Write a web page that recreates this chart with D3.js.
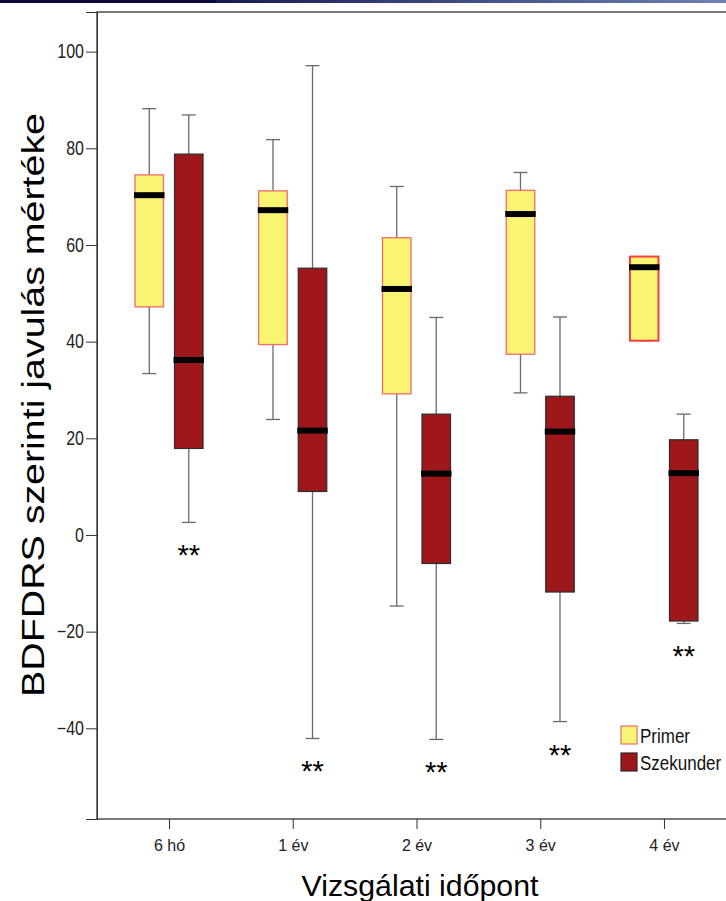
<!DOCTYPE html>
<html><head><meta charset="utf-8">
<script src="https://cdn.jsdelivr.net/npm/d3@7"></script>
<style>
html,body{margin:0;padding:0;background:#fff;}
svg{display:block;font-family:"Liberation Sans",Arial,sans-serif;}
</style></head>
<body>
<svg id="chart" width="726" height="901"></svg>
<script>
// ---- data ----
const categories = ["6 hó", "1 év", "2 év", "3 év", "4 év"];
const groups = ["Primer", "Szekunder"];
const primerMin    = [33.4, 23.9, -14.7, 29.4, 40.2];
const primerQ1     = [47.2, 39.4, 29.2, 37.4, 40.2];
const primerMedian = [70.3, 67.2, 50.9, 66.4, 55.4];
const primerQ3     = [74.5, 71.2, 61.5, 71.3, 57.6];
const primerMax    = [88.2, 81.8, 72.1, 75.0, 57.6];
const szekMin    = [2.6, -42.1, -42.3, -38.6, -18.3];
const szekQ1     = [17.9, 9.0, -5.9, -11.8, -17.8];
const szekMedian = [36.2, 21.6, 12.7, 21.4, 12.8];
const szekQ3     = [78.8, 55.2, 25.0, 28.7, 19.7];
const szekMax    = [86.9, 97.1, 45.0, 45.1, 25.0];
const significance = ["**", "**", "**", "**", "**"];
const yTicks = [-40, -20, 0, 20, 40, 60, 80, 100];
const yTitle = "BDFDRS szerinti javulás mértéke";
const xTitle = "Vizsgálati időpont";

const rows = [];
categories.forEach((c, i) => {
  rows.push({cat: c, grp: "Primer", min: primerMin[i], q1: primerQ1[i], med: primerMedian[i], q3: primerQ3[i], max: primerMax[i]});
  rows.push({cat: c, grp: "Szekunder", min: szekMin[i], q1: szekQ1[i], med: szekMedian[i], q3: szekQ3[i], max: szekMax[i], sig: significance[i]});
});

const svg = d3.select("#chart");
const fill = {Primer: "#f9f472", Szekunder: "#9e171a"};
const stroke = {Primer: "#f26a6a", Szekunder: "#2b2b2b"};

// top slide decoration
const defs = svg.append("defs");
const lg = defs.append("linearGradient").attr("id", "topbar");
lg.append("stop").attr("offset", "0%").attr("stop-color", "#141a55");
lg.append("stop").attr("offset", "100%").attr("stop-color", "#6f80b8");
svg.append("rect").attr("x", 0).attr("y", 0).attr("width", 216).attr("height", 3).attr("fill", "#0b0b3a");
svg.append("rect").attr("x", 216).attr("y", 0).attr("width", 510).attr("height", 3).attr("fill", "url(#topbar)");

const mLeft = 97, mTop = 12, mRight = 736, mBottom = 819;
const y = d3.scaleLinear().domain([-58.76, 108.2]).range([mBottom, mTop]);
const x = d3.scalePoint().domain(categories).range([mLeft, mRight]).padding(0.582);
const xs = d3.scaleBand().domain(groups).range([-34, 34]).paddingInner(0.2785);
const bw = xs.bandwidth();

// frame
svg.append("rect").attr("x", mLeft).attr("y", mTop).attr("width", mRight - mLeft).attr("height", mBottom - mTop)
  .attr("fill", "none").attr("stroke", "#333").attr("stroke-width", 1.3);

// y axis
const ya = svg.append("g").attr("transform", `translate(${mLeft},0)`)
  .call(d3.axisLeft(y).tickValues(yTicks).tickSize(11).tickPadding(2).tickFormat(d3.format("d")));
ya.select(".domain").attr("stroke", "#333");
ya.selectAll(".tick line").attr("stroke", "#333");
ya.selectAll(".tick text").attr("font-size", 16).attr("fill", "#222")
  .attr("font-family", "Liberation Sans, Arial, sans-serif")
  .attr("transform", "scale(1,1.22)");

// x axis
const xa = svg.append("g").attr("transform", `translate(0,${mBottom})`)
  .call(d3.axisBottom(x).tickSize(10).tickPadding(11));
xa.select(".domain").remove();
xa.selectAll(".tick line").attr("stroke", "#333");
xa.selectAll(".tick text").attr("font-size", 16).attr("fill", "#222").attr("font-family", "Liberation Sans, Arial, sans-serif");

// boxes
const g = svg.append("g");
const box = g.selectAll("g.box").data(rows).join("g").attr("class", "box")
  .attr("transform", d => `translate(${x(d.cat) + xs(d.grp)},0)`);
const cap = 14;
box.filter(d => d.max > d.q3).append("line")
  .attr("x1", bw / 2).attr("x2", bw / 2).attr("y1", d => y(d.max)).attr("y2", d => y(d.q3))
  .attr("stroke", "#6a6a6a").attr("stroke-width", 1.3);
box.filter(d => d.min < d.q1).append("line")
  .attr("x1", bw / 2).attr("x2", bw / 2).attr("y1", d => y(d.min)).attr("y2", d => y(d.q1))
  .attr("stroke", "#6a6a6a").attr("stroke-width", 1.3);
box.append("line").attr("x1", bw / 2 - cap / 2).attr("x2", bw / 2 + cap / 2)
  .attr("y1", d => y(d.max)).attr("y2", d => y(d.max)).attr("stroke", "#6a6a6a").attr("stroke-width", 1.3);
box.append("line").attr("x1", bw / 2 - cap / 2).attr("x2", bw / 2 + cap / 2)
  .attr("y1", d => y(d.min)).attr("y2", d => y(d.min)).attr("stroke", "#6a6a6a").attr("stroke-width", 1.3);
box.append("rect").attr("x", 0).attr("width", bw)
  .attr("y", d => y(d.q3)).attr("height", d => y(d.q1) - y(d.q3))
  .attr("fill", d => fill[d.grp])
  .attr("stroke", d => d.grp === "Primer" && d.cat === "4 év" ? "#f04040" : stroke[d.grp])
  .attr("stroke-width", d => d.grp === "Primer" ? (d.cat === "4 év" ? 2 : 1.3) : 1.2);
box.append("line").attr("x1", -1).attr("x2", bw + 1)
  .attr("y1", d => y(d.med)).attr("y2", d => y(d.med))
  .attr("stroke", "#000").attr("stroke-width", 6);
box.filter(d => d.sig).append("text")
  .attr("x", bw / 2).attr("y", d => y(d.min) + 43)
  .attr("text-anchor", "middle").attr("font-size", 29).attr("fill", "#000")
  .text(d => d.sig);

// legend
const leg = svg.append("g").attr("transform", "translate(621,726)");
groups.forEach((gname, i) => {
  const r = leg.append("g").attr("transform", `translate(0,${i * 27})`);
  r.append("rect").attr("width", 16).attr("height", 18)
    .attr("fill", fill[gname]).attr("stroke", stroke[gname]).attr("stroke-width", 1.2);
  r.append("text").attr("transform", "translate(19,17) scale(1,1.15)")
    .attr("font-size", 17).attr("fill", "#111").text(gname);
});

// titles
svg.append("text").attr("transform", "translate(44,405) rotate(-90)")
  .attr("text-anchor", "middle").attr("font-size", 31).attr("fill", "#000")
  .attr("textLength", 584).attr("lengthAdjust", "spacingAndGlyphs").text(yTitle);
svg.append("text").attr("x", 420).attr("y", 896)
  .attr("text-anchor", "middle").attr("font-size", 29).attr("fill", "#000")
  .attr("textLength", 237).attr("lengthAdjust", "spacingAndGlyphs").text(xTitle);
</script>
</body></html>
